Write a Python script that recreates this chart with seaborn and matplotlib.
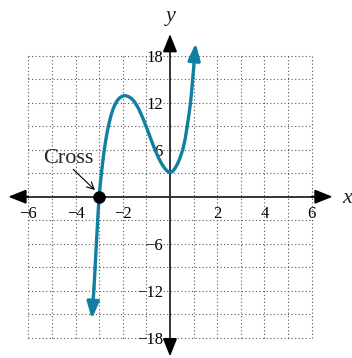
import matplotlib
matplotlib.use("Agg")
import matplotlib.pyplot as plt
import seaborn as sns

# curve points
curve_x = [-3.22, -3.17, -3.11, -3.05, -3.00, -2.95, -2.90, -2.85, -2.80, -2.74, -2.66, -2.58,
           -2.50, -2.42, -2.34, -2.26, -2.18, -2.10, -2.02, -1.93, -1.85, -1.75, -1.62, -1.50,
           -1.34, -1.17, -1.00, -0.89, -0.78, -0.67, -0.56, -0.45, -0.35, -0.25, -0.14, -0.07,
           0.00, 0.10, 0.21, 0.32, 0.42, 0.54, 0.64, 0.73, 0.80, 0.87, 0.92, 0.96, 1.00, 1.03]
curve_y = [-11.7, -8.9, -5.6, -2.3, 0.0, 1.7, 3.1, 4.4, 5.6, 6.86, 8.26, 9.38,
           10.34, 11.1, 11.7, 12.14, 12.46, 12.68, 12.82, 12.9, 12.87, 12.76, 12.5, 12.1,
           11.3, 10.18, 8.89, 8.0, 7.11, 6.25, 5.45, 4.75, 4.19, 3.73, 3.33, 3.15,
           3.06, 3.2, 3.6, 4.2, 4.9, 6.0, 7.3, 9.0, 10.4, 12.0, 13.5, 15.0, 16.3, 17.5]
tip_low = (-3.31, -15.6)
tip_high = (1.09, 19.6)

cross_x = [-3]
cross_y = [0]

x_ticks = [-6, -4, -2, 2, 4, 6]
x_labels = ["\u22126", "\u22124", "\u22122", "2", "4", "6"]
y_ticks = [-18, -12, -6, 6, 12, 18]
y_labels = ["\u221218", "\u221212", "\u22126", "6", "12", "18"]
grid_x = [-6, -5, -4, -3, -2, -1, 1, 2, 3, 4, 5, 6]
grid_y = [-18, -15, -12, -9, -6, -3, 3, 6, 9, 12, 15, 18]

teal = "#0f7fa3"

sns.set_style("white")
plt.rcParams["font.family"] = ["Liberation Serif", "DejaVu Serif"]

fig = plt.figure(figsize=(3.52, 3.58), dpi=100)
ax = fig.add_axes([0, 0, 1, 1])
ax.set_xlim(-7.20, 7.71)
ax.set_ylim(-20.57, 25.09)

# dotted grid, only inside the -6..6 / -18..18 box
ax.vlines(grid_x, -18, 18, colors="#555555", linestyles=(0, (1, 2.2)), linewidth=0.8, zorder=1)
ax.hlines(grid_y, -6, 6, colors="#555555", linestyles=(0, (1, 2.2)), linewidth=0.8, zorder=1)

# axes through the origin
for side in ["top", "right"]:
    ax.spines[side].set_visible(False)
ax.spines["left"].set_position(("data", 0))
ax.spines["bottom"].set_position(("data", 0))
ax.spines["bottom"].set_bounds(-6.6, 6.6)
ax.spines["left"].set_bounds(-19.6, 19.9)
for side in ["left", "bottom"]:
    ax.spines[side].set_linewidth(1.3)
    ax.spines[side].set_zorder(2)

ax.set_xticks(x_ticks, x_labels)
ax.set_yticks(y_ticks, y_labels)
ax.tick_params(axis="both", direction="inout", length=7, width=1.0, labelsize=12, colors="black")
ax.tick_params(axis="x", pad=3)
ax.tick_params(axis="y", pad=1.5)

head = "-|>,head_length=0.4,head_width=0.16"
for tip, start in [((6.89, 0), (6.0, 0)), ((-6.85, 0), (-6.0, 0)),
                   ((0, 20.75), (0, 18.5)), ((0, -20.36), (0, -18.5))]:
    ax.annotate("", xy=tip, xytext=start,
                arrowprops=dict(arrowstyle=head, color="black", lw=1.3,
                                mutation_scale=27, shrinkA=0, shrinkB=0))

ax.text(7.50, -0.8, "x", fontsize=16, style="italic", ha="center", va="baseline")
ax.text(0.05, 22.4, "y", fontsize=16, style="italic", ha="center", va="baseline")

# the curve
sns.lineplot(x=curve_x, y=curve_y, ax=ax, color=teal, linewidth=2.4, zorder=3)
ax.lines[-1].set_solid_joinstyle("round")
teal_head = "-|>,head_length=0.4,head_width=0.145"
for tip, start in [(tip_low, (curve_x[0], curve_y[0])), (tip_high, (curve_x[-1], curve_y[-1]))]:
    ax.annotate("", xy=tip, xytext=start,
                arrowprops=dict(arrowstyle=teal_head, color=teal, lw=2.4,
                                mutation_scale=25, shrinkA=0, shrinkB=0), zorder=3)

sns.scatterplot(x=cross_x, y=cross_y, ax=ax, color="black", s=70, edgecolor="black", zorder=4)

ax.text(-5.38, 4.3, "Cross", fontsize=16, ha="left", va="baseline")
ax.annotate("", xy=(-3.18, 0.85), xytext=(-4.10, 3.5),
            arrowprops=dict(arrowstyle="->,head_length=0.5,head_width=0.25", color="black",
                            lw=0.8, mutation_scale=10, shrinkA=0, shrinkB=0))

fig.savefig("out.png", dpi=100)
